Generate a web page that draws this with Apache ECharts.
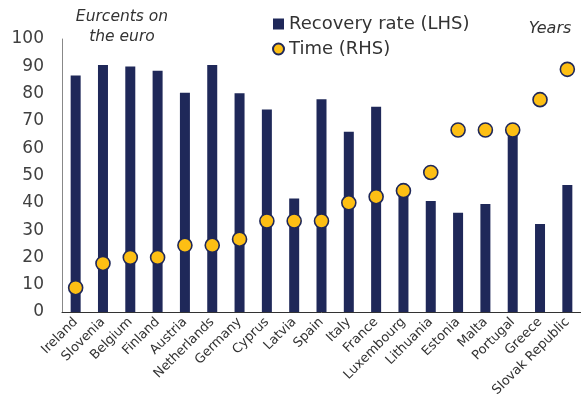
<!DOCTYPE html>
<html>
<head>
<meta charset="utf-8">
<script src="https://cdn.jsdelivr.net/npm/echarts@6/dist/echarts.min.js"></script>
<style>
  html, body { margin: 0; padding: 0; background: #fff; }
  #chart { width: 581px; height: 405px; }
</style>
</head>
<body>
<div id="chart"></div>
<script>
const countries = ["Ireland", "Slovenia", "Belgium", "Finland", "Austria", "Netherlands", "Germany", "Cyprus", "Latvia", "Spain", "Italy", "France", "Luxembourg", "Lithuania", "Estonia", "Malta", "Portugal", "Greece", "Slovak Republic"];
// eurocents on the euro
const recoveryRate = [86.6, 90.5, 89.9, 88.4, 80.3, 90.5, 80.1, 74.2, 41.6, 77.9, 66.0, 75.2, 44.5, 40.7, 36.4, 39.6, 66.0, 32.2, 46.5];
// years
const timeYears = [0.4, 0.8, 0.9, 0.9, 1.1, 1.1, 1.2, 1.5, 1.5, 1.5, 1.8, 1.9, 2.0, 2.3, 3.0, 3.0, 3.0, 3.5, 4.0];

const navy = "#1f2859";
const yellow = "#fdbf14";
const font = "DejaVu Sans";

const chart = echarts.init(document.getElementById("chart"));
chart.setOption({
  animation: false,
  textStyle: { fontFamily: font },
  grid: { left: 62, top: 39, width: 521, height: 273 },
  legend: {
    orient: "vertical",
    left: 267,
    top: 10,
    itemWidth: 11,
    itemHeight: 11,
    itemGap: 7,
    textStyle: { fontFamily: font, fontSize: 18, color: "#333" },
    data: [
      { name: "Recovery rate (LHS)", icon: "rect" },
      { name: "Time (RHS)", icon: "circle" }
    ]
  },
  graphic: [
    {
      type: "text", x: 122, y: 7,
      style: {
        text: "Eurcents on\nthe euro", align: "center",
        font: "italic 15.5px 'DejaVu Sans'", fill: "#333", lineHeight: 20
      }
    },
    {
      type: "text", x: 550, y: 21,
      style: { text: "Years", align: "center", font: "italic 16px 'DejaVu Sans'", fill: "#333" }
    }
  ],
  xAxis: {
    type: "category",
    data: countries,
    axisLine: { lineStyle: { color: "#333", width: 1 } },
    axisTick: { show: false },
    axisLabel: { interval: 0, rotate: 45, fontSize: 13, color: "#333", margin: 8 }
  },
  yAxis: [
    {
      type: "value", min: 0, max: 100, interval: 10,
      axisLine: { show: true, lineStyle: { color: "#888" } },
      axisTick: { show: false },
      splitLine: { show: false },
      axisLabel: { fontSize: 17, color: "#404040", margin: 18 }
    },
    {
      type: "value", min: 0, max: 4.5, interval: 0.45,
      axisLine: { show: false },
      axisTick: { show: false },
      splitLine: { show: false },
      axisLabel: { show: false }
    }
  ],
  series: [
    {
      name: "Recovery rate (LHS)",
      type: "bar",
      barWidth: 10,
      itemStyle: { color: navy },
      data: recoveryRate
    },
    {
      name: "Time (RHS)",
      type: "scatter",
      yAxisIndex: 1,
      symbolSize: 14,
      itemStyle: { color: yellow, borderColor: navy, borderWidth: 1.6, opacity: 1 },
      data: timeYears
    }
  ]
});
</script>
</body>
</html>
